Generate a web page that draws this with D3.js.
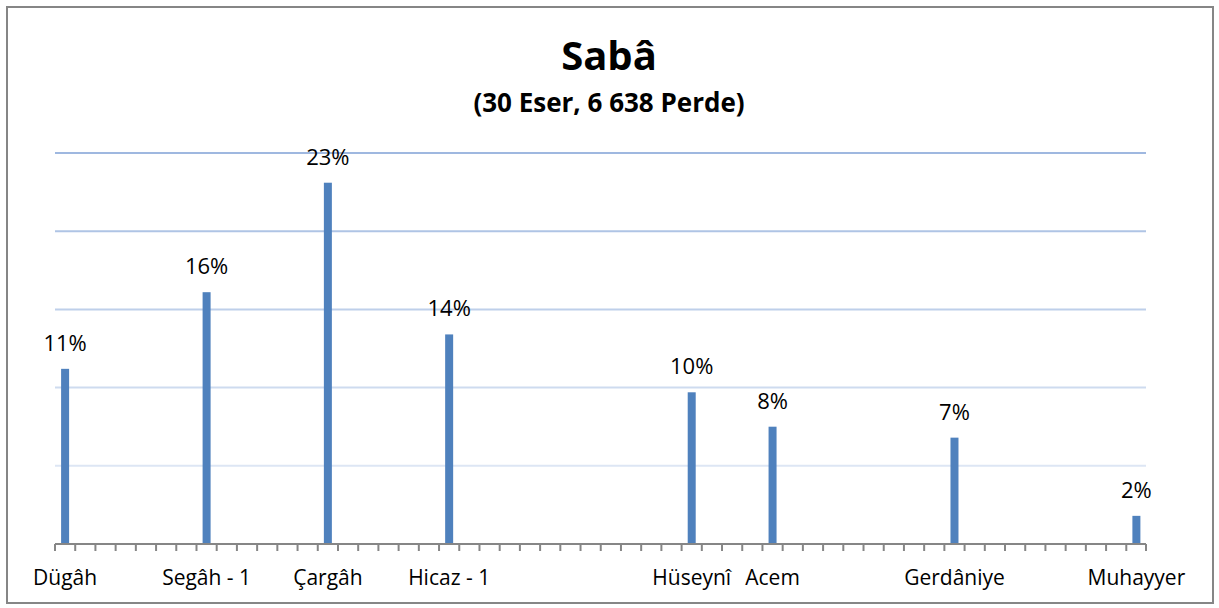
<!DOCTYPE html>
<html>
<head>
<meta charset="utf-8">
<script src="https://cdn.jsdelivr.net/npm/d3@7"></script>
<style>
  body { margin: 0; background: #fff; }
  text { font-family: "Open Sans", sans-serif; }
</style>
</head>
<body>
<svg id="chart" width="1219" height="608"></svg>
<script>
// 54 pitch positions on the axis, only some of them are named
const categories = [
  'Dügâh', '', '', '', '', '', '', 'Segâh - 1', '', '',
  '', '', '', 'Çargâh', '', '', '', '', '', 'Hicaz - 1',
  '', '', '', '', '', '', '', '', '', '',
  '', 'Hüseynî', '', '', '', 'Acem', '', '', '', '',
  '', '', '', '', 'Gerdâniye', '', '', '', '', '',
  '', '', '', 'Muhayyer'
];
const values = [
  0.112, 0, 0, 0, 0, 0, 0, 0.161, 0, 0,
  0, 0, 0, 0.231, 0, 0, 0, 0, 0, 0.134,
  0, 0, 0, 0, 0, 0, 0, 0, 0, 0,
  0, 0.097, 0, 0, 0, 0.075, 0, 0, 0, 0,
  0, 0, 0, 0, 0.068, 0, 0, 0, 0, 0,
  0, 0, 0, 0.018
];
const valueLabels = {0: '11%', 7: '16%', 13: '23%', 19: '14%', 31: '10%', 35: '8%', 44: '7%', 53: '2%'};
const yTicks = [0.05, 0.10, 0.15, 0.20, 0.25];

const title = 'Sabâ';
const subtitle = '(30 Eser, 6 638 Perde)';

const svg = d3.select('#chart');
const margin = { top: 153, right: 73, bottom: 64, left: 55 };
const width = 1219, height = 608;
const plotW = width - margin.left - margin.right;
const plotH = height - margin.top - margin.bottom;

// outer frame
svg.append('rect')
  .attr('x', 7).attr('y', 7)
  .attr('width', 1206).attr('height', 596)
  .attr('fill', '#fff')
  .attr('stroke', '#868686')
  .attr('stroke-width', 2);

svg.append('text')
  .attr('x', 609).attr('y', 70)
  .attr('text-anchor', 'middle')
  .style('font-size', '40px').style('font-weight', 'bold')
  .text(title);

svg.append('text')
  .attr('x', 609).attr('y', 112)
  .attr('text-anchor', 'middle')
  .style('font-size', '26px').style('font-weight', 'bold')
  .text(subtitle);

const g = svg.append('g').attr('transform', 'translate(' + margin.left + ',' + margin.top + ')');

const x = d3.scaleBand()
  .domain(d3.range(categories.length))
  .range([0, plotW + 0.5])
  .paddingInner(0).paddingOuter(0);

const y = d3.scaleLinear()
  .domain([0, 0.25])
  .range([plotH, 0]);

// gridlines, fading towards the bottom
const gridColor = d3.scaleLinear().domain([0.05, 0.25]).range(['#dde6f4', '#9fb8e0']);
g.append('g')
  .selectAll('line')
  .data(yTicks)
  .join('line')
  .attr('x1', 0).attr('x2', plotW)
  .attr('y1', d => y(d)).attr('y2', d => y(d))
  .attr('stroke', d => gridColor(d))
  .attr('stroke-width', 2);

// bars
const idx = d3.range(values.length).filter(i => values[i] > 0);
const barW = 8;
g.append('g')
  .selectAll('rect')
  .data(idx)
  .join('rect')
  .attr('x', i => x(i) + x.bandwidth() / 2 - barW / 2)
  .attr('y', i => y(values[i]))
  .attr('width', barW)
  .attr('height', i => plotH - y(values[i]))
  .attr('fill', '#4f81bd');

// value labels
g.append('g')
  .selectAll('text')
  .data(idx)
  .join('text')
  .attr('x', i => x(i) + x.bandwidth() / 2)
  .attr('y', i => y(values[i]) - 18)
  .attr('text-anchor', 'middle')
  .style('font-size', '22px')
  .attr('fill', '#000')
  .text(i => valueLabels[i]);

// category axis: ticks on band boundaries
const axis = g.append('g').attr('transform', 'translate(0,' + plotH + ')');
axis.append('line')
  .attr('x1', 0).attr('x2', plotW)
  .attr('stroke', '#868686').attr('stroke-width', 2);
axis.selectAll('line.tick')
  .data(d3.range(categories.length + 1))
  .join('line')
  .attr('class', 'tick')
  .attr('x1', i => i < categories.length ? x(i) : plotW)
  .attr('x2', i => i < categories.length ? x(i) : plotW)
  .attr('y1', 0).attr('y2', 7)
  .attr('stroke', '#868686').attr('stroke-width', 2);
axis.selectAll('text')
  .data(idx.filter(i => categories[i] !== ''))
  .join('text')
  .attr('x', i => x(i) + x.bandwidth() / 2)
  .attr('y', 41)
  .attr('text-anchor', 'middle')
  .style('font-size', '21px')
  .attr('fill', '#000')
  .text(i => categories[i]);
</script>
</body>
</html>
